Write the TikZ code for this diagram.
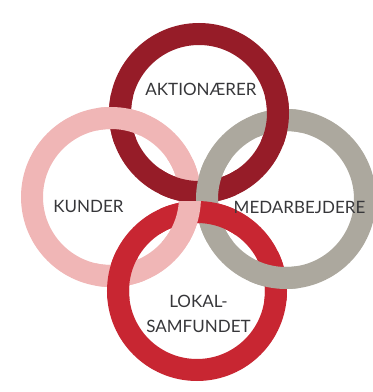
\documentclass[tikz,border=0pt]{standalone}
\usepackage{fontspec}
\setmainfont{Lato}
\usepackage{tikz}
\definecolor{aktred}{RGB}{150,28,40}
\definecolor{lokred}{RGB}{200,38,50}
\definecolor{kundpink}{RGB}{240,182,182}
\definecolor{medgray}{RGB}{172,168,158}
\definecolor{labelgray}{RGB}{55,55,58}
\tikzset{
    % ring styles
    ring/.style={line width=22pt},
    ringtop/.style={ring, draw=aktred},
    ringleft/.style={ring, draw=kundpink},
    ringright/.style={ring, draw=medgray},
    ringbottom/.style={ring, draw=lokred},
    % label style
    ringlabel/.style={
        text=labelgray, font=\fontsize{17}{25.5}\selectfont,
        align=center, inner sep=0pt
    }
}
\newcommand{\ringrad}{79}

\begin{document}
\begin{tikzpicture}[x=1pt,y=1pt]
\useasboundingbox (0,0) rectangle (373,392);

% Ring centres
\coordinate (top) at (199,279);
\coordinate (left) at (111,195);
\coordinate (right) at (286,193);
\coordinate (bottom) at (197,101);

% Base rings
\draw[ringleft] (left) circle[radius=\ringrad];
\draw[ringtop] (top) circle[radius=\ringrad];
\draw[ringright] (right) circle[radius=\ringrad];
\draw[ringbottom] (bottom) circle[radius=\ringrad];

% Outer crossings
\begin{scope}
\clip (120.2,273.4) circle[radius=26];
\draw[ringtop] (top) circle[radius=\ringrad];
\draw[ringleft] (left) circle[radius=\ringrad];
\end{scope}
\begin{scope}
\clip (277.6,271.6) circle[radius=26];
\draw[ringright] (right) circle[radius=\ringrad];
\draw[ringtop] (top) circle[radius=\ringrad];
\end{scope}
\begin{scope}
\clip (119.3,116.5) circle[radius=26];
\draw[ringleft] (left) circle[radius=\ringrad];
\draw[ringbottom] (bottom) circle[radius=\ringrad];
\end{scope}
\begin{scope}
\clip (275,114.6) circle[radius=26];
\draw[ringbottom] (bottom) circle[radius=\ringrad];
\draw[ringright] (right) circle[radius=\ringrad];
\end{scope}

% Centre crossings
\begin{scope}
\clip (160,190) rectangle (236,232);
\draw[ringbottom] (bottom) circle[radius=\ringrad];
\draw[ringleft] (left) circle[radius=\ringrad];
\draw[ringtop] (top) circle[radius=\ringrad];
\draw[ringright] (right) circle[radius=\ringrad];
\end{scope}
\begin{scope}
\clip (160,150) rectangle (236,190);
\draw[ringtop] (top) circle[radius=\ringrad];
\draw[ringright] (right) circle[radius=\ringrad];
\draw[ringbottom] (bottom) circle[radius=\ringrad];
\draw[ringleft] (left) circle[radius=\ringrad];
\end{scope}

% Labels
\node[ringlabel] (aktionaerer) at (201,303) {AKTIONÆRER};
\node[ringlabel] (kunder) at (88.5,186) {KUNDER};
\node[ringlabel] (medarbejdere) at (299.5,185) {MEDARBEJDERE};
\node[ringlabel] (lokalsamfundet) at (198.5,78) {LOKAL-\\SAMFUNDET};

\end{tikzpicture}
\end{document}
